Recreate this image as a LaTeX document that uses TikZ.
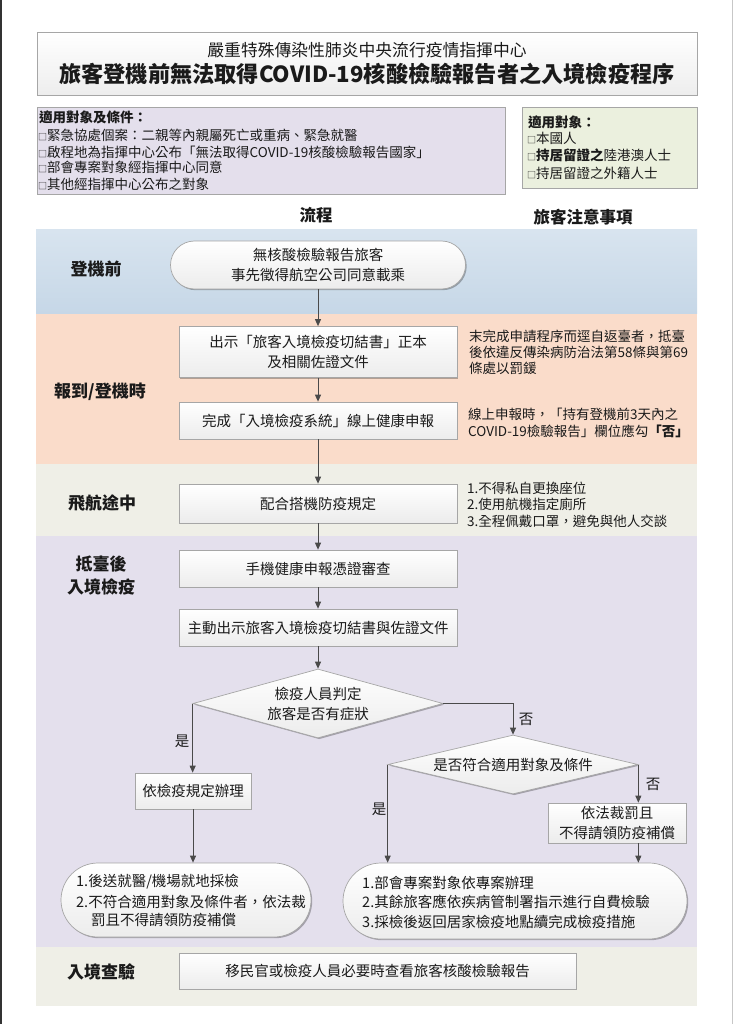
\documentclass[tikz,border=0pt]{standalone}
\usepackage{fontspec}
\setmainfont{Noto Sans CJK TC}
\usetikzlibrary{shapes.geometric,arrows.meta,shadows}
\definecolor{boxborder}{HTML}{A6A6A6}
\definecolor{boxbot}{HTML}{ECECEC}
\definecolor{linecol}{HTML}{4A4A4A}
\definecolor{bluetop}{HTML}{D8E4EF}
\definecolor{bluebot}{HTML}{C6D7E7}
\definecolor{peach}{HTML}{FADCCA}
\definecolor{beige}{HTML}{EFEFE7}
\definecolor{lavender}{HTML}{E4E0ED}
\definecolor{purpfill}{HTML}{E4DFEC}
\definecolor{greenfill}{HTML}{EBF0DE}
\definecolor{txt}{HTML}{1A1A1A}
\tikzset{
  shad/.style={drop shadow={shadow xshift=1.2pt,shadow yshift=-1.2pt,opacity=0.28,fill=black}},
  stepbox/.style={draw=boxborder, line width=0.7pt, top color=white, bottom color=boxbot,
    minimum width=278pt, minimum height=37pt, inner sep=0pt, text=txt,
    font=\fontsize{14.5}{20}\selectfont, align=center, shad},
  termbox/.style={stepbox, rounded corners=24pt},
  decide/.style={diamond, draw=boxborder, line width=0.7pt, top color=white, bottom color=boxbot,
    inner sep=0pt, text=txt, font=\fontsize{14.5}{20}\selectfont, align=center, shad},
  stage/.style={font=\fontsize{17}{22}\selectfont\bfseries, text=txt, inner sep=0pt},
  note/.style={font=\fontsize{13.5}{17}\selectfont, text=txt, inner sep=0pt, anchor=west},
  flowtxt/.style={font=\fontsize{14.5}{19}\selectfont, text=txt, inner sep=0pt, anchor=west},
  yn/.style={font=\fontsize{14.5}{18}\selectfont, text=txt, inner sep=0pt},
  conn/.style={draw=linecol, line width=0.9pt, -{Triangle[length=7pt,width=6pt]}},
  panel/.style={draw=boxborder, line width=0.7pt, inner sep=0pt, shad},
}
\newcommand{\bx}{{\fontsize{9}{9}\selectfont □}}
\begin{document}
\begin{tikzpicture}[x=1pt,y=-1pt]
\useasboundingbox (0,0) rectangle (733,1024);
\fill[white] (0,0) rectangle (733,1024);
\fill[black!80] (0,0) rectangle (2,1024);
\fill[black!22] (731.5,0) rectangle (732.5,1024);

% title
\node[panel, top color=white, bottom color=black!7, minimum width=660pt, minimum height=63pt] (title) at (367,63.5) {};
\node[text=txt, inner sep=0pt, font=\fontsize{16.8}{20}\selectfont] (t1) at (367,50) {嚴重特殊傳染性肺炎中央流行疫情指揮中心};
\node[text=txt, inner sep=0pt, font=\fontsize{22.2}{28}\selectfont\bfseries] (t2) at (367,74) {旅客登機前無法取得COVID-19核酸檢驗報告者之入境檢疫程序};

% conditions box
\node[panel, fill=purpfill, minimum width=468pt, minimum height=87pt] (cond) at (271,150.5) {};
\node[note] (c1) at (39,117) {\bfseries 適用對象及條件：};
\node[note] (c2) at (38,135) {\bx 緊急協處個案：二親等內親屬死亡或重病、緊急就醫};
\node[note] (c3) at (38,152) {\bx 啟程地為指揮中心公布「無法取得COVID-19核酸檢驗報告國家」};
\node[note] (c4) at (38,167.5) {\bx 部會專案對象經指揮中心同意};
\node[note] (c5) at (38,184) {\bx 其他經指揮中心公布之對象};

\node[panel, fill=greenfill, minimum width=175pt, minimum height=81pt] (who) at (609.5,147.5) {};
\node[note] (w1) at (528,122) {\bfseries 適用對象：};
\node[note] (w2) at (527,138.5) {\bx 本國人};
\node[note] (w3) at (527,155.5) {\bx {\bfseries 持居留證之}陸港澳人士};
\node[note] (w4) at (527,173) {\bx 持居留證之外籍人士};

% headers
\node[stage, font=\fontsize{16.5}{20}\selectfont\bfseries] (h1) at (316,215) {流程};
\node[stage, font=\fontsize{16.5}{20}\selectfont\bfseries] (h2) at (583,217) {旅客注意事項};

% bands
\shade[top color=bluetop, bottom color=bluebot] (36,230) rectangle (697,313.5);
\fill[peach] (36,313.5) rectangle (697,464);
\fill[beige] (36,464) rectangle (697,536);
\fill[lavender] (36,536) rectangle (697,947);
\fill[beige] (36,947) rectangle (697,1006);

% stage labels
\node[stage] (s1) at (96,269) {登機前};
\node[stage] (s2) at (100,392) {報到/登機時};
\node[stage] (s3) at (102,503) {飛航途中};
\node[stage] (s4a) at (101,564) {抵臺後};
\node[stage] (s4b) at (101,587) {入境檢疫};
\node[stage] (s5) at (101,972) {入境查驗};

% flow
\node[termbox, minimum width=295pt, minimum height=48pt] (term) at (318,265) {無核酸檢驗報告旅客\\事先徵得航空公司同意載乘};
\node[stepbox, minimum height=51pt] (b2) at (318,352) {出示「旅客入境檢疫切結書」正本\\及相關佐證文件};
\node[stepbox] (b3) at (318,420.5) {完成「入境檢疫系統」線上健康申報};
\node[stepbox, minimum height=39pt] (b4) at (318,503.5) {配合搭機防疫規定};
\node[stepbox] (b5) at (318,568.5) {手機健康申報憑證審查};
\node[stepbox] (b6) at (318,627.5) {主動出示旅客入境檢疫切結書與佐證文件};
\node[decide, aspect=3.62, minimum width=250pt, minimum height=69pt] (d1) at (318,703.5) {檢疫人員判定\\旅客是否有症狀};
\node[decide, aspect=4.24, minimum width=250pt, minimum height=59pt] (d2) at (513,764.5) {是否符合適用對象及條件};
\node[stepbox, minimum width=116pt, minimum height=36pt] (ql) at (193,791) {依檢疫規定辦理};
\node[stepbox, minimum width=138pt, minimum height=40pt] (fa) at (617,823) {依法裁罰且\\不得請領防疫補償};
\node[termbox, minimum width=250pt, minimum height=74pt, rounded corners=37pt] (rl) at (186,900) {};
\node[flowtxt] (rl1) at (76,882) {1.後送就醫/機場就地採檢};
\node[flowtxt] (rl2) at (76,901.5) {2.不符合適用對象及條件者，依法裁};
\node[flowtxt] (rl3) at (91,920.5) {罰且不得請領防疫補償};
\node[termbox, minimum width=344pt, minimum height=76pt, rounded corners=38pt] (rr) at (515,901) {};
\node[flowtxt] (rr1) at (362,883) {1.部會專案對象依專案辦理};
\node[flowtxt] (rr2) at (362,902) {2.其餘旅客應依疾病管制署指示進行自費檢驗};
\node[flowtxt] (rr3) at (362,921.5) {3.採檢後返回居家檢疫地點續完成檢疫措施};
\node[stepbox, minimum width=397pt, minimum height=36pt] (b7) at (377.5,971) {移民官或檢疫人員必要時查看旅客核酸檢驗報告};

% notes
\node[note] (n1) at (469,336) {末完成申請程序而逕自返臺者，抵臺};
\node[note] (n2) at (469,352) {後依違反傳染病防治法第58條與第69};
\node[note] (n3) at (469,368) {條處以罰鍰};
\node[note] (n4) at (468,414.5) {線上申報時，「持有登機前3天內之};
\node[note] (n5) at (468,431) {COVID-19檢驗報告」欄位應勾{\bfseries「否」}};
\node[note] (n6) at (467,488) {1.不得私自更換座位};
\node[note] (n7) at (467,504.5) {2.使用航機指定廁所};
\node[note] (n8) at (467,521) {3.全程佩戴口罩，避免與他人交談};

% connectors
\draw[conn] (term) -- (b2);
\draw[conn] (b2) -- (b3);
\draw[conn] (b3) -- (b4);
\draw[conn] (b4) -- (b5);
\draw[conn] (b5) -- (b6);
\draw[conn] (b6) -- (d1);
\draw[conn] (d1.west) -- (d1.west |- ql.north);
\draw[conn] (d1.east) -| (d2.north);
\draw[conn] (d2.east) -- (d2.east |- fa.north);
\draw[conn] (d2.west) -- (d2.west |- rr.north);
\draw[conn] (ql.south) -- (ql.south |- rl.north);
\draw[conn] (fa.south -| d2.east) -- (rr.north -| d2.east);

\node[yn] (y1) at (182,741) {是};
\node[yn] (n1l) at (526,719) {否};
\node[yn] (n2l) at (653,784) {否};
\node[yn] (y2) at (379,809) {是};
\end{tikzpicture}
\end{document}
